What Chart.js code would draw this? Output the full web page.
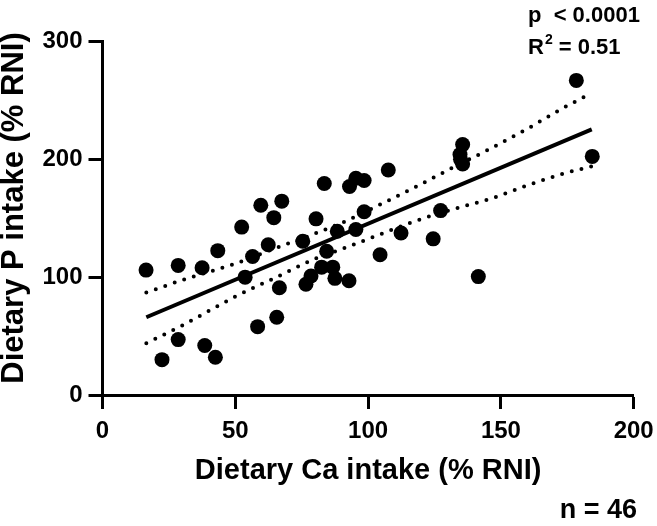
<!DOCTYPE html>
<html><head><meta charset="utf-8">
<script src="https://cdn.jsdelivr.net/npm/chart.js@4"></script>
<style>html,body{margin:0;padding:0;background:#fff}#wrap{width:657px;height:526px}</style>
</head><body><div id="wrap"><canvas id="c" width="657" height="526"></canvas></div>
<script>
// ---- data ----
const caIntake = [16.4, 28.5, 37.5, 43.4, 52.4, 28.5, 38.5, 42.5, 22.4, 59.6, 67.5, 64.5, 83.5, 93, 95.4, 98.5,
  80.4, 62.4, 56.5, 75.4, 88.4, 95.4, 84.4, 53.7, 66.6, 76.6, 78.5, 82.5, 86.7, 87.5, 92.8, 58.4, 65.6, 98.5,
  135.6, 134.6, 135.6, 107.6, 127.3, 112.4, 124.5, 104.5, 141.5, 178.4, 184.4, 134.8];
const pIntake = [106, 110, 108, 122.5, 142.5, 47, 42, 32, 30, 161, 164.5, 150.5, 179.5, 177, 184, 182,
  149.5, 127.5, 117.5, 130.5, 139, 140.5, 122, 100, 91, 94, 101, 108.5, 108.5, 99, 97, 58, 66, 155.5,
  212.5, 204, 196, 191, 156.5, 137.5, 132.5, 119, 100.5, 267, 202.5, 200];
const fitX = [16.5, 184.2];
const fitY = [66, 225.5];
const bandX = [16.5, 30, 50, 65, 80, 92, 103, 117, 131, 146, 160, 173, 184];
const bandUpper = [87, 97.5, 111.5, 124.5, 137, 148, 160, 175.5, 192, 209, 226, 243, 256];
const bandLower = [44, 59, 83.5, 99.5, 115.5, 125.5, 135, 147, 157, 166.5, 178, 187.5, 194];
const xTicks = [0, 50, 100, 150, 200];
const yTicks = [0, 100, 200, 300];
const xTitle = 'Dietary Ca intake (% RNI)';
const yTitle = 'Dietary P intake (% RNI)';
const pText = 'p  < 0.0001';
const r2Value = '0.51';
const nText = 'n = 46';

const FONT = "'Liberation Sans', Arial, sans-serif";
const pts = caIntake.map((x, i) => ({x, y: pIntake[i]}));
const fit = fitX.map((x, i) => ({x, y: fitY[i]}));
const up = bandX.map((x, i) => ({x, y: bandUpper[i]}));
const lo = bandX.map((x, i) => ({x, y: bandLower[i]}));

const textPlugin = {
  id: 'texts',
  afterDraw(chart) {
    const ctx = chart.ctx;
    ctx.save();
    ctx.fillStyle = '#000';
    ctx.textBaseline = 'alphabetic';
    ctx.textAlign = 'left';
    ctx.font = 'bold 22px ' + FONT;
    ctx.fillText(pText, 528, 22);
    ctx.fillText('R', 528, 54);
    let w = ctx.measureText('R').width;
    ctx.font = 'bold 14px ' + FONT;
    ctx.fillText('2', 528 + w + 1, 44);
    let w2 = ctx.measureText('2').width;
    ctx.font = 'bold 22px ' + FONT;
    ctx.fillText(' = ' + r2Value, 528 + w + w2 + 1, 54);
    ctx.font = 'bold 27px ' + FONT;
    ctx.textAlign = 'right';
    ctx.fillText(nText, 637, 518);
    ctx.translate(14, 208);
    ctx.rotate(-Math.PI / 2);
    ctx.textAlign = 'center';
    ctx.textBaseline = 'middle';
    ctx.font = 'bold 31px ' + FONT;
    ctx.fillText(yTitle, 0, 0);
    ctx.restore();
  }
};

const axisCommon = {
  type: 'linear',
  grid: {drawOnChartArea: false, drawTicks: true, tickLength: 14, tickWidth: 3, color: '#000'},
  border: {display: true, width: 3, color: '#000'},
};

new Chart(document.getElementById('c'), {
  type: 'scatter',
  data: {
    datasets: [
      {data: pts, backgroundColor: '#000', borderWidth: 0, pointRadius: 7.5, pointHoverRadius: 7.5},
      {data: fit, showLine: true, borderColor: '#000', borderWidth: 4, pointRadius: 0, fill: false},
      {data: up, showLine: true, borderColor: '#000', borderWidth: 4, borderDash: [0, 10], borderCapStyle: 'round',
       cubicInterpolationMode: 'monotone', pointRadius: 0, fill: false},
      {data: lo, showLine: true, borderColor: '#000', borderWidth: 4, borderDash: [0, 10], borderCapStyle: 'round',
       cubicInterpolationMode: 'monotone', pointRadius: 0, fill: false}
    ]
  },
  options: {
    responsive: false,
    devicePixelRatio: 1,
    animation: false,
    layout: {padding: {top: 41.5, right: 23.3, bottom: 0, left: 0}},
    plugins: {legend: {display: false}, tooltip: {enabled: false}},
    scales: {
      x: Object.assign({}, axisCommon, {
        min: 0, max: 200,
        afterBuildTicks: s => { s.ticks = xTicks.map(v => ({value: v})); },
        afterFit: s => { s.height = 131; },
        ticks: {color: '#000', padding: 0, font: {family: FONT, size: 24, weight: 'bold', lineHeight: 1.87}},
        title: {display: true, text: xTitle, color: '#000', padding: {top: 0, bottom: 41},
                font: {family: FONT, size: 29, weight: 'bold', lineHeight: 1}}
      }),
      y: Object.assign({}, axisCommon, {
        min: 0, max: 300,
        afterBuildTicks: s => { s.ticks = yTicks.map(v => ({value: v})); },
        afterFit: s => { s.width = 102.5; },
        ticks: {color: '#000', padding: 6, font: {family: FONT, size: 24, weight: 'bold'}}
      })
    }
  },
  plugins: [textPlugin]
});
</script>
</body></html>
